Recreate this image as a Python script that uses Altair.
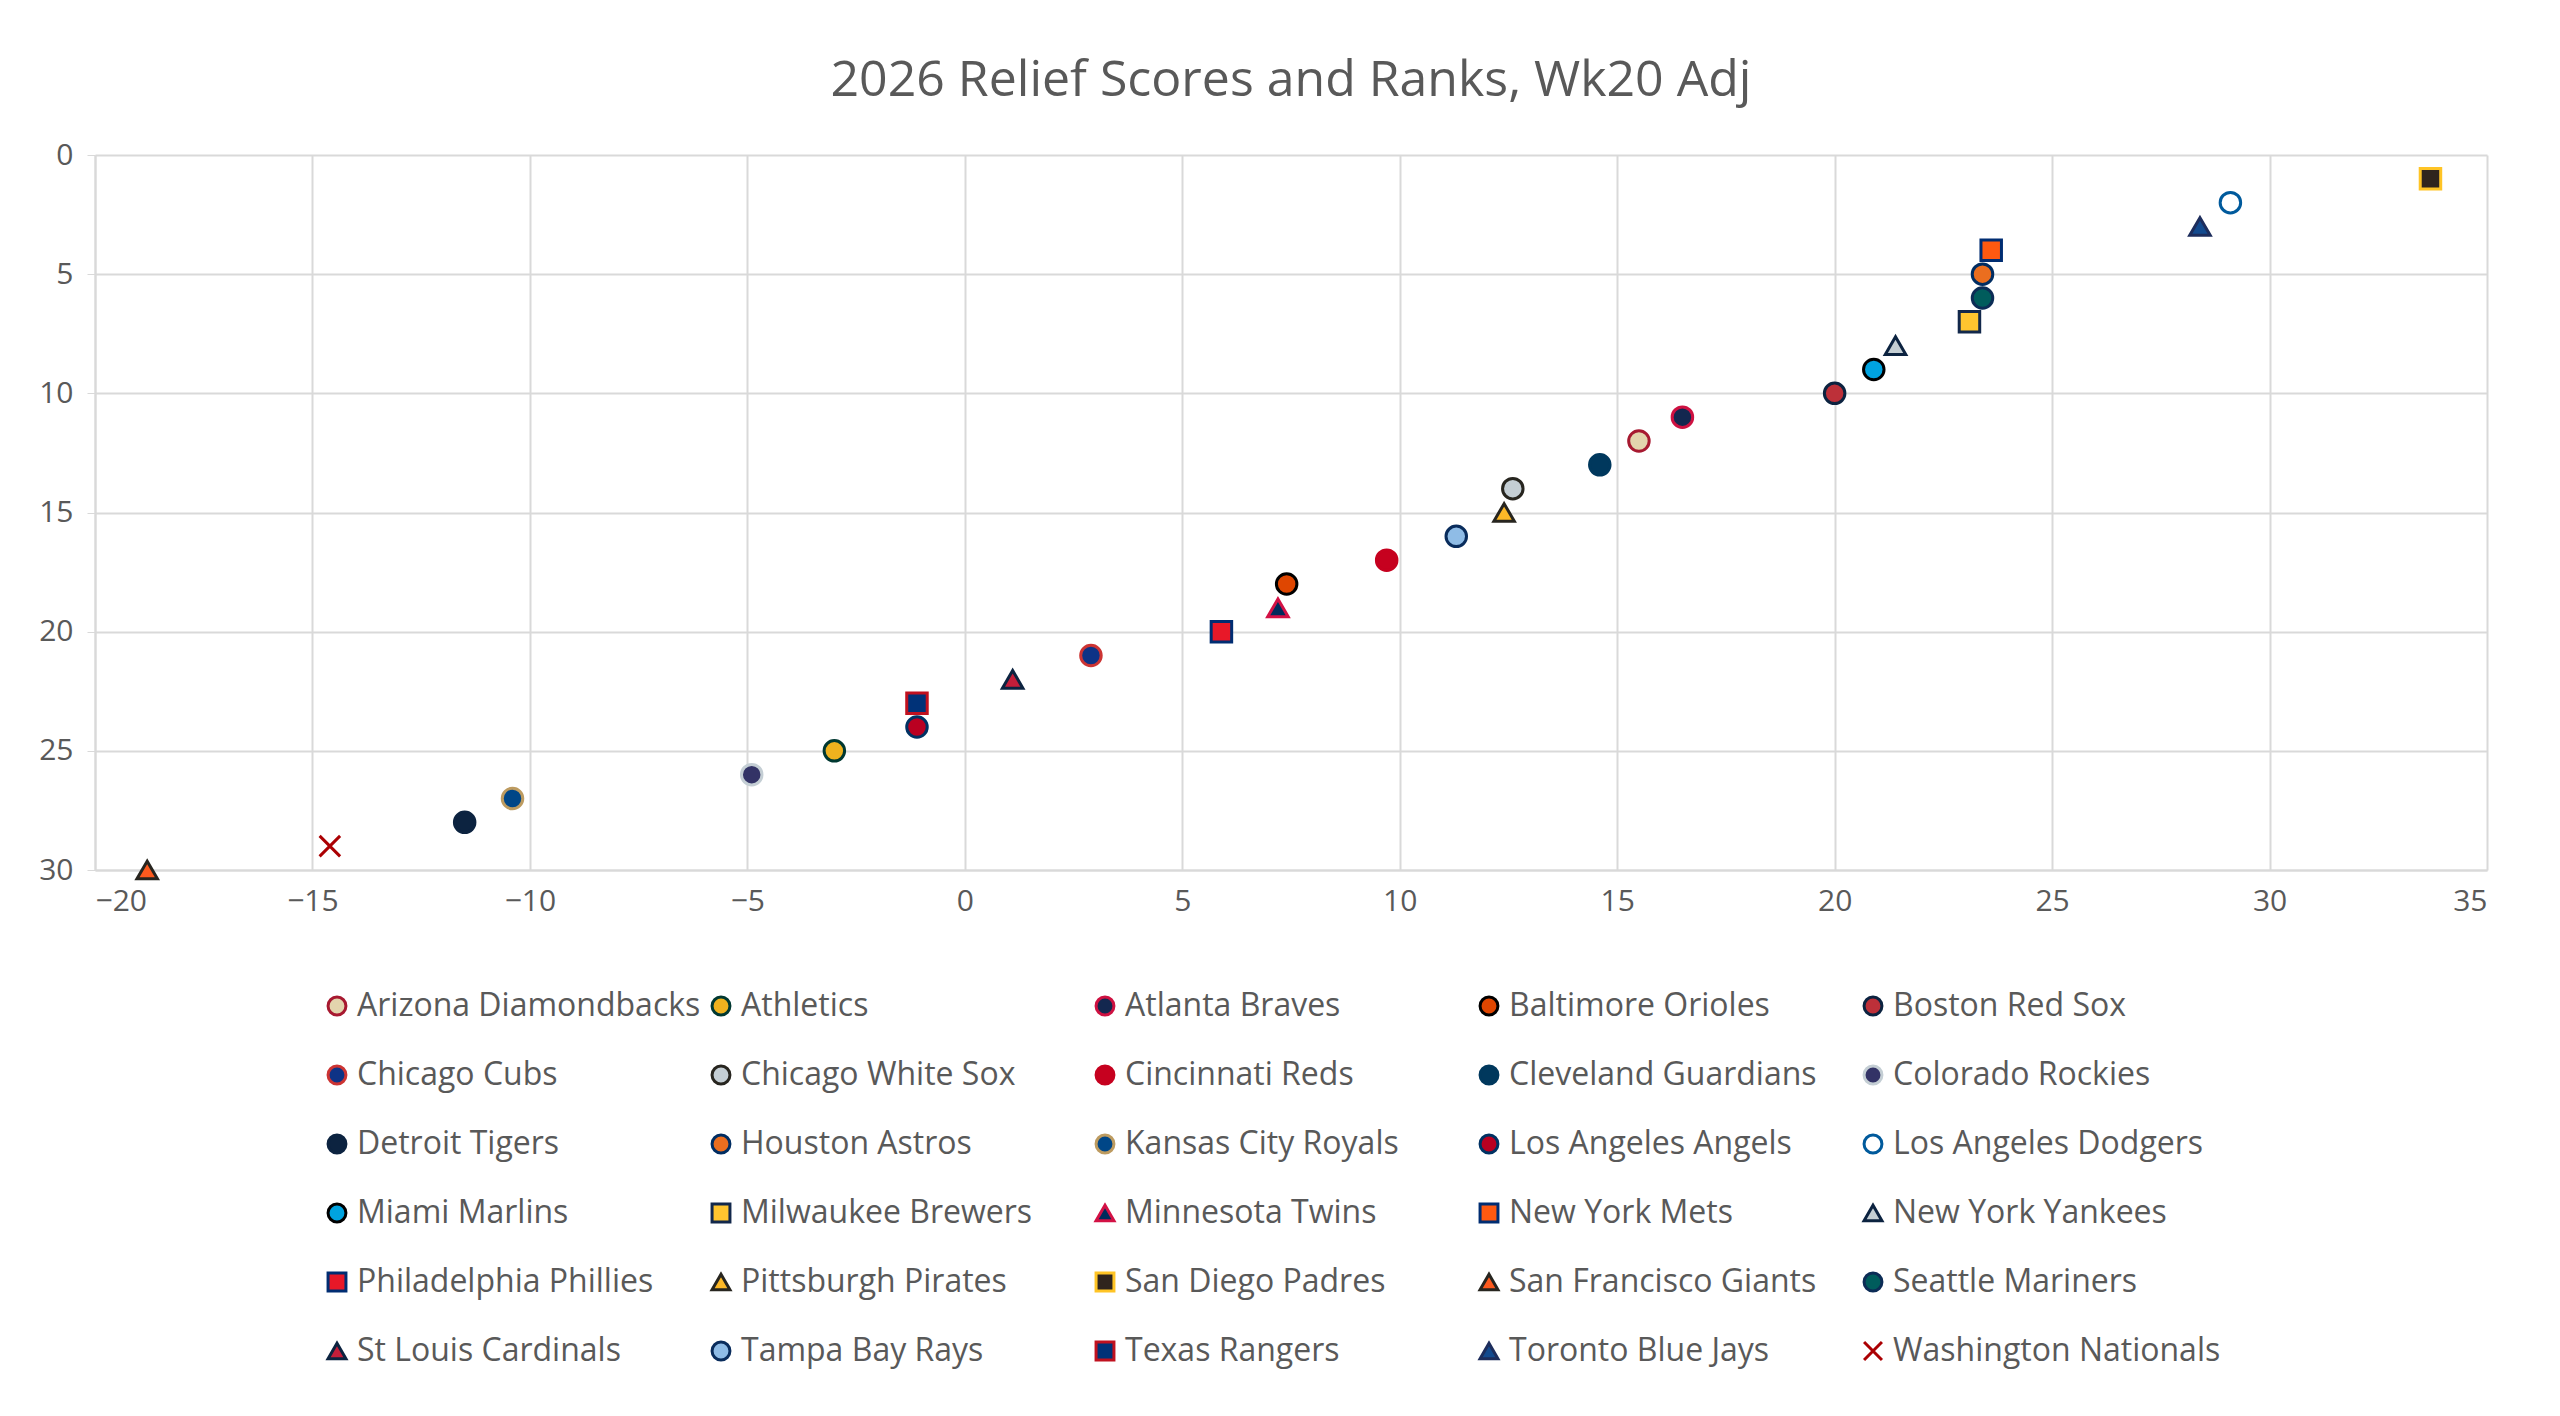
import altair as alt
import pandas as pd

teams = [
    "Arizona Diamondbacks", "Athletics", "Atlanta Braves", "Baltimore Orioles", "Boston Red Sox",
    "Chicago Cubs", "Chicago White Sox", "Cincinnati Reds", "Cleveland Guardians", "Colorado Rockies",
    "Detroit Tigers", "Houston Astros", "Kansas City Royals", "Los Angeles Angels", "Los Angeles Dodgers",
    "Miami Marlins", "Milwaukee Brewers", "Minnesota Twins", "New York Mets", "New York Yankees",
    "Philadelphia Phillies", "Pittsburgh Pirates", "San Diego Padres", "San Francisco Giants", "Seattle Mariners",
    "St Louis Cardinals", "Tampa Bay Rays", "Texas Rangers", "Toronto Blue Jays", "Washington Nationals",
]
scores = [
    15.5, -3.0, 16.5, 7.4, 20.0,
    2.9, 12.6, 9.7, 14.6, -4.9,
    -11.5, 23.4, -10.4, -1.1, 29.1,
    20.9, 23.1, 7.2, 23.6, 21.4,
    5.9, 12.4, 33.7, -18.8, 23.4,
    1.1, 11.3, -1.1, 28.4, -14.6,
]
ranks = [
    12, 25, 11, 18, 10,
    21, 14, 17, 13, 26,
    28, 5, 27, 24, 2,
    9, 7, 19, 4, 8,
    20, 15, 1, 30, 6,
    22, 16, 23, 3, 29,
]
CROSS = "M-1,-1L1,1M-1,1L1,-1"
shapes = [
    "circle", "circle", "circle", "circle", "circle",
    "circle", "circle", "circle", "circle", "circle",
    "circle", "circle", "circle", "circle", "circle",
    "circle", "square", "triangle-up", "square", "triangle-up",
    "square", "triangle-up", "square", "triangle-up", "circle",
    "triangle-up", "circle", "square", "triangle-up", CROSS,
]
fills = [
    "#e3d4ad", "#efb21e", "#13274f", "#df4601", "#bd3039",
    "#0e3386", "#c4ced4", "#c6011f", "#00385d", "#333366",
    "#0c2340", "#eb6e1f", "#004687", "#ba0021", "#ffffff",
    "#00a3e0", "#ffc52f", "#002b5c", "#ff5910", "#c4ced3",
    "#e81828", "#fdb827", "#2f241d", "#fd5a1e", "#005c5c",
    "#c41e3a", "#8fbce6", "#003278", "#134a8e", "transparent",
]
strokes = [
    "#a71930", "#003831", "#ce1141", "#000000", "#0c2340",
    "#cc3433", "#27251f", "#c6011f", "#00385d", "#c4ced4",
    "#0c2340", "#002d62", "#bd9b60", "#003263", "#005a9c",
    "#000000", "#12284b", "#d31145", "#002d72", "#0c2340",
    "#002d72", "#27251f", "#ffc425", "#27251f", "#0c2c56",
    "#0c2340", "#092c5c", "#c0111f", "#1d2d5c", "#ab0003",
]

df = pd.DataFrame({"team": teams, "score": scores, "rank": ranks})

font = "Open Sans"
text_color = "#595959"

chart = (
    alt.Chart(df)
    .mark_point(filled=False, size=420, strokeWidth=3, opacity=1)
    .encode(
        x=alt.X("score:Q", title=None,
                scale=alt.Scale(domain=[-20, 35], nice=False, zero=False),
                axis=alt.Axis(values=list(range(-20, 36, 5)), labelFontSize=30,
                              labelColor=text_color, gridColor="#d9d9d9", gridWidth=2,
                              domainColor="#d9d9d9", domainWidth=2, ticks=False, labelPadding=16)),
        y=alt.Y("rank:Q", title=None,
                scale=alt.Scale(domain=[0, 30], reverse=True, nice=False),
                axis=alt.Axis(values=list(range(0, 31, 5)), labelFontSize=30,
                              labelColor=text_color, gridColor="#d9d9d9", gridWidth=2,
                              domainColor="#d9d9d9", domainWidth=2, tickColor="#d9d9d9",
                              tickSize=8, labelPadding=14)),
        fill=alt.Fill("team:N", scale=alt.Scale(domain=teams, range=fills), title=None),
        stroke=alt.Stroke("team:N", scale=alt.Scale(domain=teams, range=strokes), title=None),
        shape=alt.Shape("team:N", scale=alt.Scale(domain=teams, range=shapes), title=None,
                        legend=alt.Legend(orient="none", direction="horizontal",
                                          legendX=226, legendY=835)),
        tooltip=["team:N", "score:Q", "rank:Q"],
    )
    .properties(
        width=2392, height=715,
        title=alt.Title("2026 Relief Scores and Ranks, Wk20 Adj", fontSize=50,
                        fontWeight="normal", color=text_color, font=font, offset=34),
        padding={"left": 30, "right": 50, "top": 48, "bottom": 30},
    )
    .configure(font=font, background="white")
    .configure_view(stroke=None)
    .configure_legend(
        columns=5, labelFontSize=32, labelColor=text_color, gridAlign="all",
        symbolSize=320, symbolStrokeWidth=3, rowPadding=37, columnPadding=4,
        labelLimit=500, padding=0,
    )
)

chart.save("out.html", embed_options={"renderer": "svg", "actions": False})
